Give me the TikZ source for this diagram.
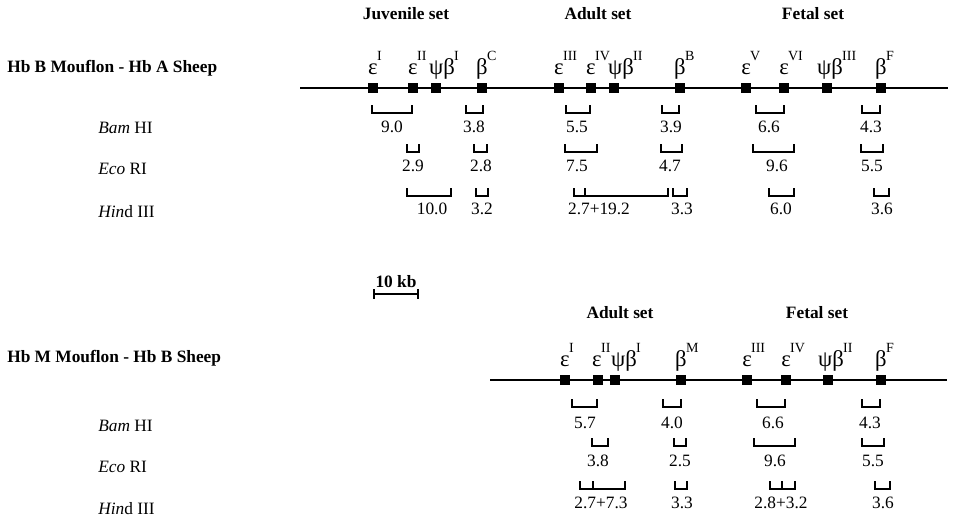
\documentclass[tikz,border=0pt]{standalone}
\usepackage{fontspec}
\setmainfont{Liberation Serif}
% gene label: greek symbol with raised roman numeral
\newcommand{\gk}[1]{{\fontsize{17}{17}\selectfont #1}}
\newcommand{\gname}[2]{\gk{#1}\rlap{\kern-0.5pt\raisebox{10pt}{\fontsize{10.5}{11}\selectfont #2}}}
\begin{document}
\begin{tikzpicture}[x=0.75pt, y=-0.75pt,
    every node/.style={font=\fontsize{13}{15}\selectfont},
    gene/.style={fill=black, inner sep=0pt, minimum width=6.8pt, minimum height=7.5pt},
    glabel/.style={anchor=base, inner sep=0pt},
    dna/.style={line width=1.1pt},
    frag/.style={line width=1.3pt},
    size/.style={anchor=base, inner sep=0pt},
    setname/.style={anchor=base, inner sep=0pt, font=\fontsize{13}{15}\selectfont\bfseries},
    enzyme/.style={anchor=base west, inner sep=0pt}]
    \useasboundingbox (0,0) rectangle (953,521);

    % ---- Hb B mouflon / Hb A sheep
    \node[setname, anchor=base west] (title1) at (7,72) {Hb B Mouflon - Hb A Sheep};
    \node[setname] (juv1) at (406,19) {Juvenile set};
    \node[setname] (adu1) at (598,19) {Adult set};
    \node[setname] (fet1) at (813,19) {Fetal set};
    \coordinate (tL) at (300,88);
    \coordinate (tR) at (948,88);
    \draw[dna] (tL) -- (tR);
    \foreach \x/\d/\g/\s [count=\i] in {373/0/ε/I, 413/0/ε/II, 436/6/ψβ/I, 482/0/β/C,
        559/0/ε/III, 591/0/ε/IV, 614/7/ψβ/II, 680/0/β/B,
        746/0/ε/V, 784/0/ε/VI, 827/3/ψβ/III, 881/0/β/F} {
      \node[gene] (t\i) at (\x,88) {};
      \node[glabel] (tl\i) at (\x+\d,74) {\gname{\g}{\s}};
    }
    \node[enzyme] (bam1) at (98,133) {\textit{Bam} HI};
    \node[enzyme] (eco1) at (98,174) {\textit{Eco} RI};
    \node[enzyme] (hin1) at (98,217) {\textit{Hin}d III};
    \foreach \a/\b/\c/\t [count=\i] in {372/412/392/9.0, 466/483/474/3.8, 566/590/577/5.5,
        662/679/671/3.9, 756/784/769/6.6, 862/880/871/4.3} {
      \draw[frag] (\a,105) |- (\b,113) -- (\b,105);
      \node[size] (tb\i) at (\c,132) {\t};
    }
    \foreach \a/\b/\c/\t [count=\i] in {407/419/413/2.9, 474/487/481/2.8, 565/597/577/7.5,
        661/682/670/4.7, 753/794/777/9.6, 861/883/872/5.5} {
      \draw[frag] (\a,144) |- (\b,152) -- (\b,144);
      \node[size] (te\i) at (\c,171) {\t};
    }
    \foreach \a/\b/\c/\t [count=\i] in {407/451/432/10.0, 476/488/482/3.2, 673/687/682/3.3,
        769/794/781/6.0, 874/889/882/3.6} {
      \draw[frag] (\a,188) |- (\b,196) -- (\b,188);
      \node[size] (th\i) at (\c,214) {\t};
    }
    \draw[frag] (574,188) |- (668,196) -- (668,188) (585,188) -- (585,196);
    \node[size] (th6) at (599,214) {2.7+19.2};

    % ---- scale
    \node[setname] (kb) at (396,287) {10 kb};
    \draw[line width=1pt] (374,289) -- (374,299) (374,294) -- (418,294) (418,289) -- (418,299);

    % ---- Hb M mouflon / Hb B sheep
    \node[setname, anchor=base west] (title2) at (7,362) {Hb M Mouflon - Hb B Sheep};
    \node[setname] (adu2) at (620,318) {Adult set};
    \node[setname] (fet2) at (817,318) {Fetal set};
    \coordinate (bL) at (490,380);
    \coordinate (bR) at (947,380);
    \draw[dna] (bL) -- (bR);
    \foreach \x/\d/\g/\s [count=\i] in {565/0/ε/I, 598/-1/ε/II, 615/9/ψβ/I, 681/0/β/M,
        747/0/ε/III, 786/0/ε/IV, 828/3/ψβ/II, 881/0/β/F} {
      \node[gene] (b\i) at (\x,380) {};
      \node[glabel] (bl\i) at (\x+\d,366) {\gname{\g}{\s}};
    }
    \node[enzyme] (bam2) at (98,431) {\textit{Bam} HI};
    \node[enzyme] (eco2) at (98,472) {\textit{Eco} RI};
    \node[enzyme] (hin2) at (98,514) {\textit{Hin}d III};
    \foreach \a/\b/\c/\t [count=\i] in {572/597/585/5.7, 663/681/672/4.0,
        757/785/773/6.6, 862/880/870/4.3} {
      \draw[frag] (\a,399) |- (\b,407) -- (\b,399);
      \node[size] (bb\i) at (\c,428) {\t};
    }
    \foreach \a/\b/\c/\t [count=\i] in {592/608/598/3.8, 674/686/680/2.5,
        754/795/775/9.6, 862/884/873/5.5} {
      \draw[frag] (\a,438) |- (\b,446) -- (\b,438);
      \node[size] (be\i) at (\c,466) {\t};
    }
    \foreach \a/\b/\c/\t [count=\i] in {675/687/682/3.3, 875/890/883/3.6} {
      \draw[frag] (\a,481) |- (\b,489) -- (\b,481);
      \node[size] (bh\i) at (\c,508) {\t};
    }
    \draw[frag] (580,481) |- (625,489) -- (625,481) (593,481) -- (593,489);
    \node[size] (bh3) at (601,508) {2.7+7.3};
    \draw[frag] (770,481) |- (795,489) -- (795,481) (782,481) -- (782,489);
    \node[size] (bh4) at (781,508) {2.8+3.2};
\end{tikzpicture}
\end{document}
